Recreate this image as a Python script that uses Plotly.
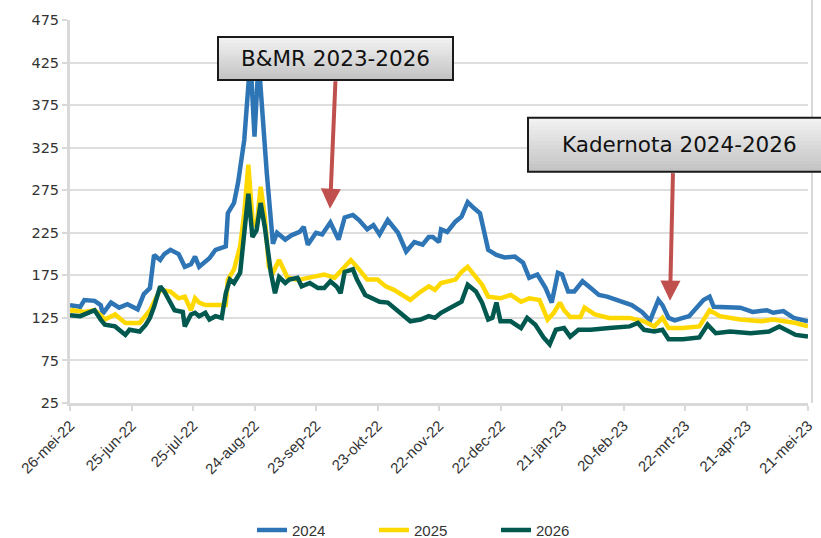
import pandas as pd
import plotly.graph_objects as go

start_date = "2022-05-26"

days_2024 = [0, 5, 7, 12, 15, 16, 20, 24, 28, 33, 36, 39, 41, 44, 46, 49, 53, 56, 59, 61, 63, 68, 71, 76, 77, 80, 82, 85, 88, 90, 92, 94, 96, 99, 101, 105, 108, 112, 114, 116, 120, 123, 127, 131, 134, 138, 141, 145, 148, 151, 155, 160, 164, 168, 172, 175, 177, 180, 181, 184, 188, 191, 194, 197, 200, 204, 208, 212, 217, 221, 224, 228, 232, 235, 238, 240, 243, 246, 250, 254, 258, 262, 269, 274, 279, 283, 287, 289, 292, 295, 299, 302, 309, 312, 314, 320, 327, 333, 340, 343, 348, 353, 360]
vals_2024 = [140, 138, 146, 145, 140, 130, 143, 137, 141, 135, 153, 160, 199, 193, 200, 205, 200, 185, 188, 197, 185, 195, 205, 209, 248, 260, 284, 334, 430, 338, 428, 360, 295, 212, 225, 217, 222, 226, 232, 211, 225, 223, 237, 217, 243, 246, 240, 229, 234, 223, 240, 225, 203, 214, 211, 220, 220, 214, 229, 226, 238, 244, 261, 254, 248, 205, 199, 196, 197, 190, 172, 176, 160, 143, 178, 176, 156, 156, 168, 160, 152, 150, 144, 140, 132, 122, 146, 140, 125, 122, 125, 127, 146, 150, 138, 137, 137, 132, 134, 131, 133, 125, 121]

days_2025 = [0, 1, 7, 12, 15, 17, 22, 27, 34, 39, 44, 49, 53, 56, 59, 61, 63, 66, 71, 76, 77, 80, 83, 85, 87, 89, 91, 93, 95, 97, 99, 102, 106, 110, 112, 119, 124, 129, 133, 137, 141, 145, 150, 154, 158, 163, 166, 170, 175, 178, 181, 188, 191, 194, 198, 201, 204, 210, 215, 220, 224, 229, 233, 236, 239, 241, 244, 249, 251, 256, 263, 273, 280, 285, 289, 292, 299, 307, 312, 317, 327, 337, 343, 348, 354, 360]
vals_2025 = [132, 134, 132, 134, 128, 123, 129, 119, 119, 134, 158, 156, 148, 150, 134, 148, 143, 140, 140, 140, 170, 182, 209, 248, 305, 240, 232, 279, 244, 185, 178, 193, 173, 170, 170, 173, 176, 172, 182, 193, 182, 170, 170, 162, 158, 150, 146, 154, 162, 158, 166, 170, 179, 185, 173, 164, 150, 148, 152, 144, 148, 146, 123, 131, 143, 134, 126, 126, 137, 129, 125, 125, 121, 115, 125, 113, 113, 115, 134, 127, 123, 121, 123, 121, 119, 115]

days_2026 = [0, 5, 10, 12, 15, 17, 22, 24, 27, 29, 34, 37, 39, 41, 44, 46, 49, 51, 55, 56, 59, 61, 63, 66, 68, 71, 74, 76, 78, 80, 83, 85, 87, 89, 91, 93, 95, 98, 100, 102, 105, 107, 111, 113, 117, 121, 124, 127, 130, 132, 134, 138, 140, 144, 147, 151, 155, 159, 161, 166, 171, 175, 178, 181, 186, 191, 194, 198, 201, 204, 206, 208, 210, 215, 220, 223, 227, 231, 234, 237, 241, 244, 248, 254, 263, 273, 277, 280, 285, 289, 292, 299, 307, 311, 315, 322, 332, 341, 346, 354, 360]
vals_2026 = [128, 127, 132, 134, 123, 117, 115, 111, 105, 111, 109, 117, 125, 138, 162, 156, 144, 134, 132, 115, 129, 131, 127, 131, 123, 127, 125, 154, 170, 166, 178, 228, 271, 220, 228, 260, 232, 178, 154, 173, 166, 170, 172, 162, 166, 160, 160, 168, 162, 154, 179, 182, 170, 152, 148, 144, 143, 134, 131, 121, 123, 127, 125, 131, 137, 144, 164, 156, 143, 123, 125, 143, 121, 121, 113, 125, 117, 102, 94, 111, 113, 103, 111, 111, 113, 115, 119, 111, 109, 111, 100, 100, 102, 117, 107, 109, 107, 109, 115, 105, 103]

series_names = ["2024", "2025", "2026"]
series_colors = ["#2E75B6", "#FFD800", "#00584F"]

tick_days = [0, 30, 60, 90, 120, 150, 180, 210, 240, 270, 300, 330, 360]
tick_labels = ["26-mei-22", "25-jun-22", "25-jul-22", "24-aug-22", "23-sep-22", "23-okt-22",
               "22-nov-22", "22-dec-22", "21-jan-23", "20-feb-23", "22-mrt-23", "21-apr-23", "21-mei-23"]
y_ticks = [25, 75, 125, 175, 225, 275, 325, 375, 425, 475]

t0 = pd.Timestamp(start_date)
def to_dates(d):
    return [t0 + pd.Timedelta(days=int(v)) for v in d]

fig = go.Figure()
for name, days, vals, col in zip(series_names, [days_2024, days_2025, days_2026],
                                 [vals_2024, vals_2025, vals_2026], series_colors):
    fig.add_trace(go.Scatter(x=to_dates(days), y=vals, mode="lines", name=name,
                             line=dict(color=col, width=4.5)))

# layout geometry (pixels)
W, H = 821, 538
L, R, T, B = 70, 13, 20, 134.5
pw, ph = W - L - R, H - T - B

def px(x):
    return (x - L) / pw

def py(y):
    return (H - B - y) / ph

shapes = []
def grad_box(x0, y0, x1, y1, c_top=(242, 242, 242), c_bot=(196, 196, 196), n=14):
    h = (y1 - y0) / n
    for i in range(n):
        f = i / (n - 1)
        c = tuple(int(c_top[k] + (c_bot[k] - c_top[k]) * f) for k in range(3))
        shapes.append(dict(type="rect", xref="paper", yref="paper", layer="above",
                           x0=px(x0), x1=px(x1), y0=py(y0 + h * (i + 1) + 0.5), y1=py(y0 + h * i),
                           line=dict(width=0), fillcolor="rgb(%d,%d,%d)" % c))
    shapes.append(dict(type="rect", xref="paper", yref="paper", layer="above",
                       x0=px(x0), x1=px(x1), y0=py(y1), y1=py(y0),
                       line=dict(color="#1a1a1a", width=2), fillcolor="rgba(0,0,0,0)"))

grad_box(218, 37, 453, 80)
grad_box(528, 118, 832, 172)

# right border line
shapes.append(dict(type="line", xref="paper", yref="paper", x0=px(812), x1=px(812),
                   y0=py(403.5), y1=py(0), line=dict(color="#d9d9d9", width=2), layer="below"))

annotations = [
    dict(xref="paper", yref="paper", x=px(335.5), y=py(58.5), text="B&MR 2023-2026",
         showarrow=False, xanchor="center", yanchor="middle",
         font=dict(family="DejaVu Sans", size=21.5, color="#111111")),
    dict(xref="paper", yref="paper", x=px(679), y=py(145), text="Kadernota 2024-2026",
         showarrow=False, xanchor="center", yanchor="middle",
         font=dict(family="DejaVu Sans", size=21.5, color="#111111")),
    dict(xref="paper", yref="paper", x=px(330), y=py(209), ax=5.5, ay=-129, text="",
         showarrow=True, arrowhead=2, arrowsize=1, arrowwidth=4, arrowcolor="#C0504D"),
    dict(xref="paper", yref="paper", x=px(670), y=py(301), ax=3, ay=-129, text="",
         showarrow=True, arrowhead=2, arrowsize=1, arrowwidth=4, arrowcolor="#C0504D"),
]

fig.update_layout(
    width=W, height=H,
    margin=dict(l=L, r=R, t=T, b=B, pad=0, autoexpand=False),
    paper_bgcolor="white", plot_bgcolor="white",
    shapes=shapes, annotations=annotations,
    showlegend=True,
    legend=dict(orientation="h", x=px(252), xanchor="left", y=py(531), yanchor="middle",
                font=dict(family="Liberation Sans", size=15, color="#333333"),
                entrywidth=77, entrywidthmode="pixels", itemwidth=30),
    xaxis=dict(type="date", range=[t0, t0 + pd.Timedelta(days=360)], automargin=False,
               tickvals=to_dates(tick_days), ticktext=tick_labels, tickangle=-45,
               tickfont=dict(family="Liberation Sans", size=15, color="#333333"),
               showgrid=False, showline=True, linecolor="#d9d9d9", linewidth=3,
               ticks="outside", ticklen=5, tickwidth=2, tickcolor="#d9d9d9", zeroline=False),
    yaxis=dict(range=[25, 475], tickvals=y_ticks, automargin=False,
               tickfont=dict(family="DejaVu Sans", size=14.5, color="#333333"),
               showgrid=True, gridcolor="#dedede", gridwidth=1.5,
               showline=True, linecolor="#d9d9d9", linewidth=3,
               ticks="outside", ticklen=5, tickwidth=2, tickcolor="#d9d9d9",
               ticklabelstandoff=0, zeroline=False),
)

fig.write_html("out.html", config={"displayModeBar": False},
               post_script="document.body.style.margin='0';document.body.style.overflow='hidden';")
